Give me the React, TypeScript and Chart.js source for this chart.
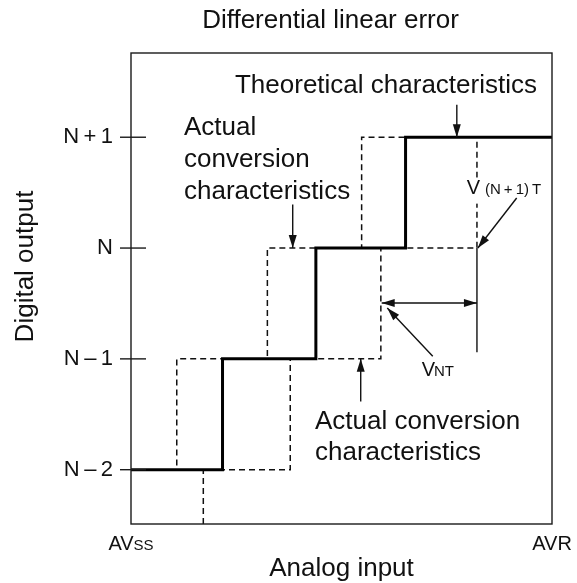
import React, { useEffect, useRef } from 'react';
import { Chart, registerables } from 'chart.js';

Chart.register(...registerables);

const FF = "'Liberation Sans', Arial, Helvetica, sans-serif";

// Digital output codes (N-2 .. N+1) and their labels
const yLevels = [1, 2, 3, 4];
const yLabels = ['N\u2009\u2013\u20092', 'N\u2009\u2013\u20091', 'N', 'N\u2009+\u20091'];

// Theoretical characteristics (solid staircase)
const theoX = [0, 1.0, 1.0, 2.02, 2.02, 3.0, 3.0, 4.6];
const theoY = [1, 1, 2, 2, 3, 3, 4, 4];

// Actual conversion characteristics #1 (dashed, narrow/shifted left)
const act1X = [0, 0.5, 0.5, 1.49, 1.49, 2.52, 2.52, 3.0];
const act1Y = [1, 1, 2, 2, 3, 3, 4, 4];

// Actual conversion characteristics #2 (dashed, shifted right)
const act2X = [0.79, 0.79, 1.74, 1.74, 2.73, 2.73, 3.78, 3.78];
const act2Y = [0.51, 1, 1, 2, 2, 3, 3, 4];

// thin solid marker line at V(N+1)T
const markX = [3.78, 3.78];
const markY = [3, 2.06];

const X_MIN = 0;
const X_MAX = 4.6;
const Y_MIN = 0.51;
const Y_MAX = 4.76;

// arrows in data units: [x1, y1, x2, y2, bothHeads]
const arrows: [number, number, number, number, boolean][] = [
  [3.56, 4.294, 3.56, 4.0, false],
  [1.767, 3.392, 1.767, 3.0, false],
  [4.214, 3.452, 3.79, 3.0, false],
  [2.739, 2.504, 3.78, 2.504, true],
  [3.297, 2.023, 2.80, 2.459, false],
  [2.51, 1.616, 2.51, 2.0, false],
];

const toPts = (xs: number[], ys: number[]) => xs.map((x, i) => ({ x, y: ys[i] }));

function drawArrow(ctx: CanvasRenderingContext2D, x1: number, y1: number, x2: number, y2: number, both: boolean) {
  const hl = 13;
  const hw = 4;
  ctx.beginPath();
  ctx.moveTo(x1, y1);
  ctx.lineTo(x2, y2);
  ctx.lineWidth = 1.4;
  ctx.strokeStyle = '#111';
  ctx.setLineDash([]);
  ctx.stroke();
  const head = (tx: number, ty: number, fx: number, fy: number) => {
    const a = Math.atan2(ty - fy, tx - fx);
    const bx = tx - hl * Math.cos(a);
    const by = ty - hl * Math.sin(a);
    ctx.beginPath();
    ctx.moveTo(tx, ty);
    ctx.lineTo(bx + hw * Math.sin(a), by - hw * Math.cos(a));
    ctx.lineTo(bx - hw * Math.sin(a), by + hw * Math.cos(a));
    ctx.closePath();
    ctx.fillStyle = '#111';
    ctx.fill();
  };
  head(x2, y2, x1, y1);
  if (both) head(x1, y1, x2, y2);
}

const annotPlugin = {
  id: 'annot',
  afterDatasetsDraw(chart: any) {
    const ctx: CanvasRenderingContext2D = chart.ctx;
    const xs = chart.scales.x;
    const ys = chart.scales.y;
    const { left, top, right, bottom } = chart.chartArea;
    const px = (v: number) => xs.getPixelForValue(v);
    const py = (v: number) => ys.getPixelForValue(v);
    ctx.save();
    // frame
    ctx.setLineDash([]);
    ctx.lineWidth = 1.4;
    ctx.strokeStyle = '#1a1a1a';
    ctx.strokeRect(left, top, right - left, bottom - top);
    // tick marks crossing the left border
    yLevels.forEach((v) => {
      const y = py(v);
      ctx.beginPath();
      ctx.moveTo(left - 11, y);
      ctx.lineTo(left + 15, y);
      ctx.stroke();
    });
    // arrows
    arrows.forEach(([x1, y1, x2, y2, b]) => drawArrow(ctx, px(x1), py(y1), px(x2), py(y2), b));

    ctx.fillStyle = '#111';
    ctx.textBaseline = 'alphabetic';

    // Theoretical characteristics
    ctx.font = `26px ${FF}`;
    ctx.textAlign = 'center';
    ctx.fillText('Theoretical characteristics', px(2.786), py(4.403));

    // Actual conversion characteristics (upper)
    ctx.textAlign = 'left';
    ctx.fillText('Actual', px(0.579), py(4.017));
    ctx.fillText('conversion', px(0.579), py(3.735));
    ctx.fillText('characteristics', px(0.579), py(3.446));

    // Actual conversion characteristics (lower)
    ctx.fillText('Actual conversion', px(2.01), py(1.37));
    ctx.fillText('characteristics', px(2.01), py(1.09));

    // V(N+1)T label
    const vx = px(3.668);
    const vy = py(3.491);
    ctx.fillStyle = '#fff';
    ctx.fillRect(vx - 2, vy - 16, 16, 26);
    ctx.fillStyle = '#111';
    ctx.font = `20px ${FF}`;
    ctx.fillText('V', vx, vy);
    let w = ctx.measureText('V').width;
    ctx.font = `15px ${FF}`;
    ctx.fillText('(N\u2009+\u20091)\u2009T', vx + w + 5, vy);

    // VNT label
    const nx = px(3.176);
    const ny = py(1.842);
    ctx.font = `20px ${FF}`;
    ctx.fillText('V', nx, ny);
    w = ctx.measureText('V').width;
    ctx.font = `15px ${FF}`;
    ctx.fillText('NT', nx + w - 1, ny);

    // outside texts
    ctx.font = `26px ${FF}`;
    ctx.textAlign = 'center';
    ctx.fillText('Differential linear error', left + 199.5, top - 25);
    ctx.fillText('Analog input', (left + right) / 2, bottom + 52);

    ctx.save();
    ctx.translate(left - 98, (top + bottom) / 2 - 22);
    ctx.rotate(-Math.PI / 2);
    ctx.fillText('Digital output', 0, 0);
    ctx.restore();

    // AVss / AVR
    const drawAV = (cx: number, sub: string, subSmall: boolean) => {
      ctx.font = `20px ${FF}`;
      const w1 = ctx.measureText('AV').width;
      ctx.font = subSmall ? `15px ${FF}` : `20px ${FF}`;
      const w2 = ctx.measureText(sub).width;
      const start = cx - (w1 + w2) / 2;
      ctx.textAlign = 'left';
      ctx.font = `20px ${FF}`;
      ctx.fillText('AV', start, bottom + 26);
      ctx.font = subSmall ? `15px ${FF}` : `20px ${FF}`;
      ctx.fillText(sub, start + w1, bottom + 26);
    };
    drawAV(px(X_MIN), 'SS', true);
    drawAV(px(X_MAX), 'R', false);

    ctx.restore();
  },
};

export default function App() {
  const ref = useRef<HTMLCanvasElement | null>(null);
  useEffect(() => {
    if (!ref.current) return;
    const chart = new Chart(ref.current, {
      type: 'line',
      data: {
        datasets: [
          {
            label: 'Theoretical characteristics',
            data: toPts(theoX, theoY),
            borderColor: '#000',
            borderWidth: 3,
            pointRadius: 0,
            tension: 0,
            fill: false,
          },
          {
            label: 'Actual conversion characteristics 1',
            data: toPts(act1X, act1Y),
            borderColor: '#111',
            borderWidth: 1.5,
            borderDash: [6, 4],
            pointRadius: 0,
            tension: 0,
            fill: false,
          },
          {
            label: 'Actual conversion characteristics 2',
            data: toPts(act2X, act2Y),
            borderColor: '#111',
            borderWidth: 1.5,
            borderDash: [6, 4],
            pointRadius: 0,
            tension: 0,
            fill: false,
          },
          {
            label: 'V(N+1)T',
            data: toPts(markX, markY),
            borderColor: '#111',
            borderWidth: 1.4,
            pointRadius: 0,
            tension: 0,
            fill: false,
          },
        ],
      },
      options: {
        animation: false,
        responsive: false,
        devicePixelRatio: 1,
        layout: { padding: { left: 0, top: 53, right: 25, bottom: 59 } },
        plugins: { legend: { display: false }, tooltip: { enabled: false }, title: { display: false } },
        scales: {
          x: {
            type: 'linear',
            min: X_MIN,
            max: X_MAX,
            display: false,
          },
          y: {
            type: 'linear',
            min: Y_MIN,
            max: Y_MAX,
            grid: { display: false, drawTicks: false },
            border: { display: false },
            afterBuildTicks: (s: any) => {
              s.ticks = yLevels.map((v) => ({ value: v }));
            },
            afterFit: (s: any) => {
              s.width = 131;
            },
            ticks: {
              padding: 18,
              color: '#111',
              font: { family: FF, size: 22 },
              callback: (v: any) => {
                const i = yLevels.indexOf(Number(v));
                return i >= 0 ? yLabels[i] : '';
              },
            },
          },
        },
      },
      plugins: [annotPlugin],
    });
    return () => chart.destroy();
  }, []);
  return (
    <div style={{ position: 'fixed', left: 0, top: 0, width: 577, height: 583, background: '#fff' }}>
      <canvas ref={ref} width={577} height={583} />
    </div>
  );
}
